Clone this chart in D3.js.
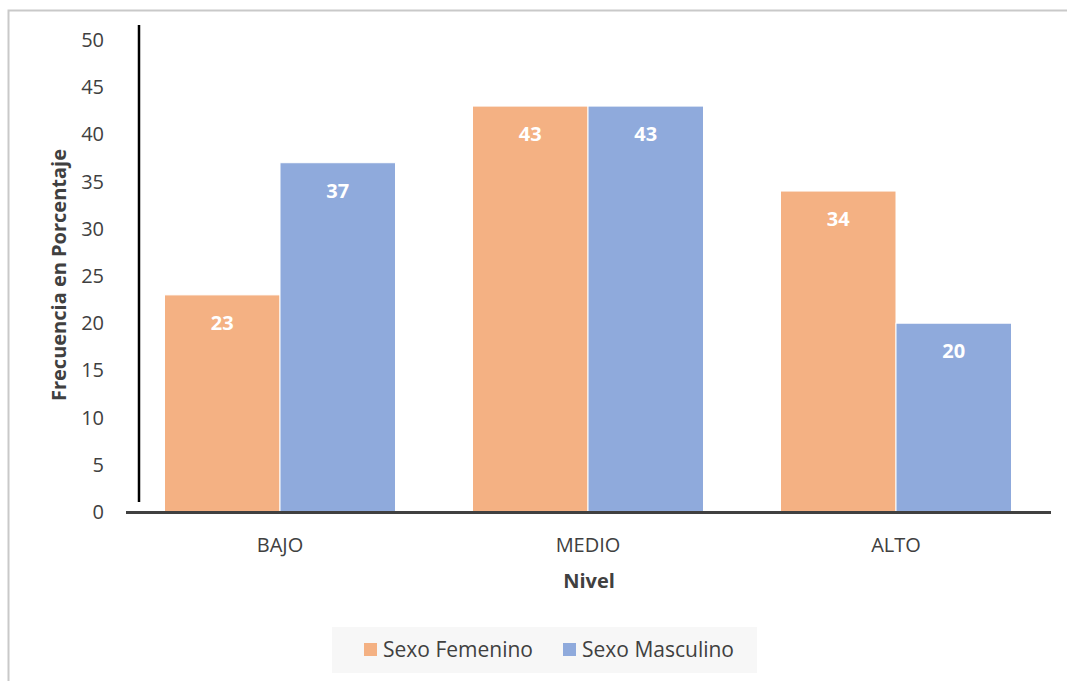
<!DOCTYPE html>
<html>
<head>
<meta charset="utf-8">
<script src="https://cdn.jsdelivr.net/npm/d3@7"></script>
<style>
  html, body { margin: 0; padding: 0; background: #ffffff; }
  svg { display: block; font-family: "Open Sans", "Noto Sans", sans-serif; }
</style>
</head>
<body>
<svg id="chart" width="1067" height="681"></svg>
<script>
// Niveles y porcentajes por sexo
const categories = ["BAJO", "MEDIO", "ALTO"];
const seriesNames = ["Sexo Femenino", "Sexo Masculino"];
const femenino = [23, 43, 34];
const masculino = [37, 43, 20];
const yTicks = [0, 5, 10, 15, 20, 25, 30, 35, 40, 45, 50];
const colors = ["#f4b183", "#8faadc"];

const svg = d3.select("#chart");
const FS = "20px";

// Chart frame
svg.append("rect")
  .attr("x", 8.5).attr("y", 10.5)
  .attr("width", 1100).attr("height", 700)
  .attr("fill", "#ffffff")
  .attr("stroke", "#c9c9c9").attr("stroke-width", 2);

const plot = { left: 126, right: 1050, top: 40, bottom: 512 };

const x0 = d3.scaleBand()
  .domain(categories)
  .range([plot.left, plot.right])
  .paddingInner(0.25)
  .paddingOuter(0.125);

const x1 = d3.scaleBand()
  .domain(seriesNames)
  .range([0, x0.bandwidth()]);

const y = d3.scaleLinear().domain([0, 50]).range([plot.bottom, plot.top]);

// Y tick labels
const yAxis = d3.axisLeft(y).tickValues(yTicks).tickSize(0).tickPadding(0);
const gy = svg.append("g")
  .attr("transform", `translate(104,0)`)
  .call(yAxis);
gy.select(".domain").remove();
gy.selectAll("text")
  .attr("fill", "#404040")
  .style("font-size", FS)
  .style("font-family", "'Open Sans', sans-serif");

// Vertical axis line
svg.append("line")
  .attr("x1", 139).attr("x2", 139)
  .attr("y1", y(51.6)).attr("y2", y(1.06))
  .attr("stroke", "#000000").attr("stroke-width", 2.5);

// Bars
const rows = categories.map((c, i) => ({ cat: c, values: [femenino[i], masculino[i]] }));
const groups = svg.append("g").selectAll("g")
  .data(rows)
  .join("g")
  .attr("transform", d => `translate(${x0(d.cat)},0)`);

groups.selectAll("rect")
  .data(d => d.values.map((v, j) => ({ name: seriesNames[j], v, j })))
  .join("rect")
  .attr("x", d => x1(d.name))
  .attr("y", d => y(d.v))
  .attr("width", x1.bandwidth())
  .attr("height", d => y(0) - y(d.v))
  .attr("fill", d => colors[d.j])
  .attr("stroke", "#ffffff")
  .attr("stroke-width", 1);

// Value labels
groups.selectAll("text")
  .data(d => d.values.map((v, j) => ({ name: seriesNames[j], v, j })))
  .join("text")
  .attr("x", d => x1(d.name) + x1.bandwidth() / 2)
  .attr("y", d => y(d.v) + 35)
  .attr("text-anchor", "middle")
  .attr("fill", "#ffffff")
  .style("font-size", FS)
  .style("font-weight", "bold")
  .text(d => d.v);

// X axis line
svg.append("line")
  .attr("x1", plot.left).attr("x2", plot.right + 1)
  .attr("y1", plot.bottom + 0.5).attr("y2", plot.bottom + 0.5)
  .attr("stroke", "#404040").attr("stroke-width", 3);

// Category labels
const xAxis = d3.axisBottom(x0).tickSize(0).tickPadding(0);
const gx = svg.append("g")
  .attr("transform", `translate(0,${plot.bottom + 40})`)
  .call(xAxis);
gx.select(".domain").remove();
gx.selectAll("text")
  .attr("dy", 0)
  .attr("fill", "#404040")
  .style("font-size", FS)
  .style("font-family", "'Open Sans', sans-serif");

// Axis titles
svg.append("text")
  .attr("x", (plot.left + plot.right) / 2 + 1)
  .attr("y", 588)
  .attr("text-anchor", "middle")
  .attr("fill", "#404040")
  .style("font-size", FS)
  .style("font-weight", "bold")
  .text("Nivel");

svg.append("text")
  .attr("transform", `translate(66,${275}) rotate(-90)`)
  .attr("text-anchor", "middle")
  .attr("fill", "#404040")
  .style("font-size", FS)
  .style("font-weight", "bold")
  .text("Frecuencia en Porcentaje");

// Legend
const legend = svg.append("g");
legend.append("rect")
  .attr("x", 332).attr("y", 627)
  .attr("width", 425).attr("height", 46)
  .attr("fill", "#f7f7f7");

const legendItems = [
  { name: seriesNames[0], color: colors[0], x: 364 },
  { name: seriesNames[1], color: colors[1], x: 563 }
];
const li = legend.selectAll("g.item")
  .data(legendItems)
  .join("g")
  .attr("class", "item")
  .attr("transform", d => `translate(${d.x},0)`);
li.append("rect")
  .attr("x", 0).attr("y", 643)
  .attr("width", 13).attr("height", 13)
  .attr("fill", d => d.color);
li.append("text")
  .attr("x", 19).attr("y", 657)
  .attr("fill", "#404040")
  .style("font-size", "21px")
  .text(d => d.name);
</script>
</body>
</html>
